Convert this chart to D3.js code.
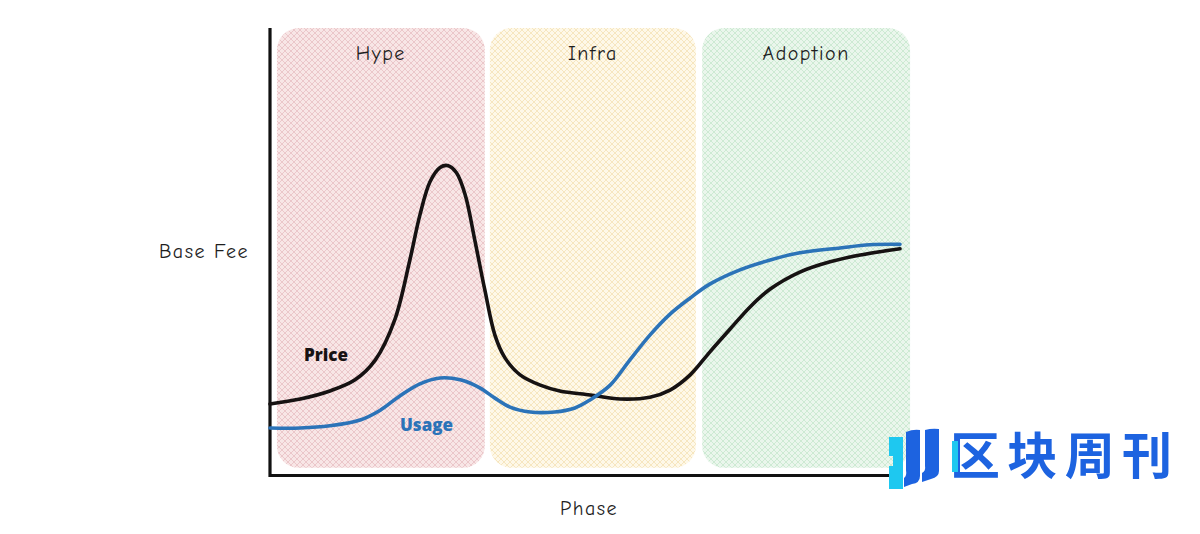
<!DOCTYPE html>
<html><head><meta charset="utf-8">
<script src="https://cdn.jsdelivr.net/npm/d3@7/dist/d3.min.js"></script>
<style>body{margin:0;background:#fff}svg{display:block}</style>
</head><body>
<svg id="c" width="1200" height="534"></svg>
<script>
// ---- data ----
const phases = ["Hype", "Infra", "Adoption"];
const phaseStart = [1.1, 34.9, 68.6];
const phaseEnd = [34.1, 67.6, 101.6];
const priceX = [0, 4.8, 9.5, 13.5, 16.7, 19.8, 22.2, 23.8, 25.4, 27.0, 28.3, 29.6, 31.0, 32.5, 34.1, 35.7, 37.3, 39.7, 42.9, 46.0, 50.8, 55.6, 60.3, 63.5, 66.7, 69.8, 73.0, 76.2, 79.4, 84.1, 88.9, 93.7, 100];
const priceY = [15.9, 17.0, 18.8, 21.3, 25.7, 34.7, 48.1, 58.2, 65.6, 68.8, 69.2, 67.6, 62.6, 52.6, 41.4, 31.3, 26.2, 22.4, 20.1, 18.8, 17.9, 17.0, 17.4, 19.0, 22.4, 27.5, 32.6, 37.6, 41.6, 45.4, 47.7, 49.2, 50.6];
const usageX = [0, 4.8, 9.5, 14.3, 17.5, 20.6, 23.8, 27.0, 30.2, 33.3, 35.7, 38.1, 41.3, 45.2, 48.4, 50.8, 54.0, 57.1, 60.3, 63.5, 66.7, 69.8, 74.6, 79.4, 84.1, 90.5, 95.2, 100];
const usageY = [10.5, 10.5, 11.0, 12.3, 14.5, 17.7, 20.4, 21.7, 21.3, 19.5, 17.2, 15.2, 14.1, 14.1, 15.0, 16.8, 20.1, 25.7, 31.3, 36.0, 39.6, 42.7, 45.9, 48.1, 49.7, 50.8, 51.5, 51.6];
const seriesNames = ["Price", "Usage"];
const axisTitles = ["Phase", "Base Fee"];

// ---- layout ----
const svg = d3.select("#c");
const x = d3.scaleLinear().domain([0, 100]).range([270, 900]);
const y = d3.scaleLinear().domain([0, 100]).range([475, 28]);
const hand = "'Comic Neue','Comic Sans MS','DejaVu Sans',sans-serif";

const defs = svg.append("defs");
const pal = [
  {bg: "#f8e6e6", ln: "#ebc7ca"},
  {bg: "#fef8e8", ln: "#f6e6bf"},
  {bg: "#eaf6ec", ln: "#cdeAd3"}
];
pal.forEach((p, i) => {
  const pat = defs.append("pattern").attr("id", "h" + i).attr("patternUnits", "userSpaceOnUse")
    .attr("width", 6).attr("height", 6);
  pat.append("rect").attr("width", 6).attr("height", 6).attr("fill", p.bg);
  pat.append("path").attr("d", "M0,0L6,6M-3,3L3,9M3,-3L9,3M0,6L6,0M-3,3L3,-3M3,9L9,3")
    .attr("stroke", p.ln).attr("stroke-width", 1);
});

// phase panels
svg.append("g").selectAll("rect").data(phases).join("rect")
  .attr("x", (d, i) => x(phaseStart[i]))
  .attr("width", (d, i) => x(phaseEnd[i]) - x(phaseStart[i]))
  .attr("y", y(100)).attr("height", y(1.6) - y(100))
  .attr("rx", 22).attr("fill", (d, i) => `url(#h${i})`);

svg.append("g").selectAll("text").data(phases).join("text")
  .attr("x", (d, i) => (x(phaseStart[i]) + x(phaseEnd[i])) / 2)
  .attr("y", 60).attr("text-anchor", "middle")
  .attr("font-family", hand).attr("font-size", 20).attr("letter-spacing", 1.5).attr("fill", "#1e1e1e")
  .text(d => d);

// axes
const xAxis = svg.append("g").attr("transform", `translate(0,${y(0)})`)
  .call(d3.axisBottom(x).tickValues([]).tickSizeOuter(0));
const yAxis = svg.append("g").attr("transform", `translate(${x(0)},0)`)
  .call(d3.axisLeft(y).tickValues([]).tickSizeOuter(0));
[xAxis, yAxis].forEach(a => a.select(".domain").attr("stroke", "#111").attr("stroke-width", 3.2));
yAxis.select(".domain").attr("d", `M0,${y(100)}V${y(0) + 2}`);

svg.append("text").attr("x", 589).attr("y", 515).attr("text-anchor", "middle")
  .attr("font-family", hand).attr("font-size", 20).attr("letter-spacing", 1.5).attr("fill", "#1e1e1e").text(axisTitles[0]);
svg.append("text").attr("x", 204).attr("y", 258).attr("text-anchor", "middle")
  .attr("font-family", hand).attr("font-size", 20).attr("letter-spacing", 1.5).attr("fill", "#1e1e1e").text(axisTitles[1]);

// lines
const line = d3.line().x(d => x(d[0])).y(d => y(d[1])).curve(d3.curveCatmullRom.alpha(0.5));
const priceData = priceX.map((v, i) => [v, priceY[i]]);
const usageData = usageX.map((v, i) => [v, usageY[i]]);
svg.append("path").datum(priceData).attr("d", line).attr("fill", "none")
  .attr("stroke", "#161212").attr("stroke-width", 3.6).attr("stroke-linecap", "round");
svg.append("path").datum(usageData).attr("d", line).attr("fill", "none")
  .attr("stroke", "#2b73b8").attr("stroke-width", 3.6).attr("stroke-linecap", "round");

svg.append("text").attr("x", 304).attr("y", 361).attr("font-family", "'Open Sans',sans-serif")
  .attr("font-weight", 800).attr("font-size", 17).attr("fill", "#161212").text(seriesNames[0]);
svg.append("text").attr("x", 400).attr("y", 431).attr("font-family", "'Open Sans',sans-serif")
  .attr("font-weight", 800).attr("font-size", 17).attr("fill", "#2b73b8").text(seriesNames[1]);

// watermark logo
const logo = svg.append("g");
logo.append("path").attr("d", "M889,437H903V489H889V466H893V456H889Z").attr("fill", "#1ec8f0");
logo.append("path").attr("d", "M906,432Q913,429 920,430V476Q920,483 912,484L904,487V478Q907,476 906,470Z").attr("fill", "#1d63e0");
logo.append("path").attr("d", "M925,430Q932,428 939,429V471Q939,477 931,479L922,482V473Q926,471 925,466Z").attr("fill", "#1d63e0");
logo.append("text").attr("x", 950).attr("y", 474).attr("font-family", "'Noto Sans CJK SC',sans-serif")
  .attr("font-weight", 700).attr("font-size", 50).attr("fill", "#1d63e0").attr("textLength", 222)
  .text("区块周刊");
logo.append("rect").attr("x", 952).attr("y", 441).attr("width", 6).attr("height", 31).attr("fill", "#1ec8f0");
</script>
</body></html>
